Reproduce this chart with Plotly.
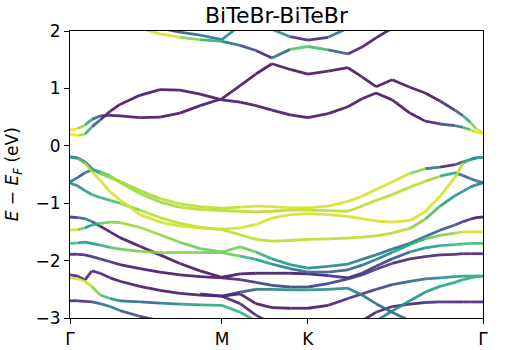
import plotly.graph_objects as go
from plotly.colors import sample_colorscale

N = None

# k-path positions (fraction of Γ-M-K-Γ path)
kpts = [0.0, 0.019, 0.036, 0.053, 0.073, 0.097, 0.121, 0.169, 0.218, 0.266,
        0.315, 0.368, 0.412, 0.450, 0.489, 0.533, 0.576, 0.625, 0.673, 0.707,
        0.741, 0.780, 0.823, 0.860, 0.896, 0.932, 0.952, 0.969, 0.983, 1.0]

tick_pos = [0.0, 0.368, 0.576, 1.0]
tick_labels = ['Γ', 'M', 'K', 'Γ']

# band energies (eV) and projected weight (0..1) per k point
cA = [0.20, 0.18, 0.20, 0.33, 0.45, 0.60, 0.72, 0.88, 0.98, 0.97, 0.90, 0.80, 0.76, 0.70, 0.62,
      0.54, 0.49, 0.56, 0.68, 0.82, 0.92, 0.80, 0.57, 0.43, 0.38, 0.35, 0.32, 0.28, 0.24, 0.21]
wA = [1.0, 0.95, 0.85, 0.45, 0.12, 0.06, 0.05, 0.05, 0.05, 0.05, 0.05, 0.05, 0.05, 0.05, 0.05,
      0.05, 0.05, 0.05, 0.05, 0.05, 0.05, 0.05, 0.05, 0.08, 0.12, 0.35, 0.55, 0.8, 0.95, 1.0]

cB = [0.27, 0.30, 0.36, 0.46, 0.52, 0.53, 0.52, 0.49, 0.50, 0.57, 0.70, 0.82, 1.05, 1.25, 1.43,
      1.33, 1.25, 1.30, 1.36, 1.20, 1.03, 1.15, 1.02, 0.92, 0.78, 0.62, 0.52, 0.41, 0.30, 0.22]
wB = [1.0, 0.95, 0.75, 0.45, 0.2, 0.1, 0.06, 0.05, 0.05, 0.05, 0.05, 0.05, 0.05, 0.05, 0.05,
      0.05, 0.05, 0.05, 0.05, 0.05, 0.05, 0.05, 0.05, 0.06, 0.1, 0.2, 0.45, 0.75, 0.9, 1.0]

cC = [N, N, N, N, N, N, N, 2.05, 1.95, 1.89, 1.85, 1.82, 1.75, 1.66, 1.53,
      1.68, 1.73, 1.67, 1.60, 1.72, 1.88, 2.05, N, N, N, N, N, N, N, N]
wC = [0, 0, 0, 0, 0, 0, 0, 0.95, 0.95, 0.9, 0.75, 0.5, 0.3, 0.12, 0.08,
      0.6, 0.85, 0.5, 0.15, 0.08, 0.06, 0.05, 0, 0, 0, 0, 0, 0, 0, 0]

cD = [N, N, N, N, N, N, N, N, 2.05, 1.98, 1.93, 1.85, 2.10, N, N,
      N, N, N, N, N, N, N, N, N, N, N, N, N, N, N]
wD = [0, 0, 0, 0, 0, 0, 0, 0, 0.2, 0.25, 0.35, 0.45, 0.5, 0, 0,
      0, 0, 0, 0, 0, 0, 0, 0, 0, 0, 0, 0, 0, 0, 0]

cE = [N, N, N, N, N, N, N, N, N, N, N, N, N, 2.20, 2.03,
      1.90, 1.84, 1.89, 2.05, 2.20, N, N, N, N, N, N, N, N, N, N]
wE = [0, 0, 0, 0, 0, 0, 0, 0, 0, 0, 0, 0, 0, 0.9, 0.85,
      0.2, 0.05, 0.15, 0.65, 0.8, 0, 0, 0, 0, 0, 0, 0, 0, 0, 0]

v1 = [-0.19, -0.21, -0.28, -0.40, -0.48, -0.55, -0.62, -0.78, -0.92, -1.01, -1.06, -1.09, -1.07, -1.05, -1.06,
      -1.08, -1.08, -1.05, -0.97, -0.88, -0.76, -0.63, -0.48, -0.40, -0.37, -0.33, -0.28, -0.24, -0.21, -0.20]
w1 = [0.5, 0.4, 0.15, 0.45, 0.7, 0.8, 0.85, 0.85, 0.85, 0.9, 0.9, 0.9, 0.92, 0.92, 0.92,
      0.92, 0.92, 0.92, 0.95, 0.95, 0.95, 0.95, 0.9, 0.7, 0.12, 0.12, 0.3, 0.45, 0.5, 0.5]

v2 = [-0.20, -0.22, -0.30, -0.45, -0.60, -0.80, -0.94, -1.20, -1.33, -1.40, -1.43, -1.45, -1.43, -1.37, -1.26,
      -1.20, -1.18, -1.20, -1.23, -1.27, -1.31, -1.33, -1.30, -1.15, -0.88, -0.55, -0.30, -0.24, -0.21, -0.20]
w2 = [0.5, 0.6, 0.85, 0.95, 0.95, 0.95, 0.95, 0.95, 0.95, 0.95, 0.95, 0.95, 0.95, 0.95, 0.95,
      0.95, 0.95, 0.95, 0.95, 0.95, 0.95, 0.95, 0.95, 0.95, 0.95, 0.95, 0.8, 0.55, 0.5, 0.5]

v3 = [-0.63, -0.55, -0.47, -0.42, -0.45, -0.52, -0.64, -0.83, -0.98, -1.07, -1.11, -1.13, -1.14, -1.15, -1.14,
      -1.12, -1.12, -1.13, -1.14, -1.05, -0.95, -0.85, -0.72, -0.62, -0.53, -0.47, -0.52, -0.57, -0.61, -0.64]
w3 = [0.45, 0.3, 0.25, 0.55, 0.75, 0.82, 0.85, 0.85, 0.85, 0.88, 0.88, 0.88, 0.88, 0.88, 0.88,
      0.88, 0.88, 0.88, 0.88, 0.88, 0.88, 0.88, 0.88, 0.88, 0.8, 0.4, 0.3, 0.3, 0.35, 0.45]

v4 = [-0.65, -0.70, -0.78, -0.85, -0.90, -0.95, -1.00, -1.12, -1.25, -1.35, -1.42, -1.46, -1.55, -1.63, -1.66,
      -1.65, -1.63, -1.62, -1.61, -1.59, -1.57, -1.52, -1.44, -1.28, -1.05, -0.87, -0.79, -0.72, -0.68, -0.65]
w4 = [0.45, 0.5, 0.55, 0.6, 0.65, 0.7, 0.75, 0.85, 0.9, 0.9, 0.9, 0.9, 0.9, 0.9, 0.9,
      0.9, 0.9, 0.9, 0.9, 0.9, 0.9, 0.9, 0.9, 0.75, 0.6, 0.5, 0.5, 0.5, 0.45, 0.45]

v5 = [-1.47, -1.46, -1.43, -1.38, -1.35, -1.33, -1.34, -1.42, -1.55, -1.68, -1.79, -1.85, -1.76, -1.85, -1.97,
      -2.07, -2.13, -2.10, -2.06, -1.98, -1.90, -1.80, -1.70, -1.58, -1.47, -1.38, -1.32, -1.28, -1.25, -1.24]
w5 = [0.95, 0.9, 0.6, 0.55, 0.7, 0.8, 0.85, 0.85, 0.85, 0.8, 0.78, 0.75, 0.8, 0.7, 0.6,
      0.55, 0.5, 0.48, 0.45, 0.42, 0.4, 0.38, 0.35, 0.32, 0.3, 0.25, 0.15, 0.1, 0.06, 0.05]

v6 = [-1.70, -1.69, -1.68, -1.70, -1.73, -1.77, -1.80, -1.84, -1.86, -1.86, -1.86, -1.86, -1.92, -1.98, -2.06,
      -2.14, -2.20, -2.20, -2.16, -2.08, -1.98, -1.86, -1.72, -1.62, -1.56, -1.52, -1.50, -1.50, -1.50, -1.50]
w6 = [0.8, 0.6, 0.5, 0.55, 0.6, 0.7, 0.75, 0.8, 0.8, 0.8, 0.8, 0.78, 0.72, 0.6, 0.5,
      0.4, 0.3, 0.3, 0.3, 0.35, 0.4, 0.5, 0.6, 0.7, 0.8, 0.85, 0.9, 0.95, 0.95, 0.95]

v7 = [-1.24, -1.25, -1.27, -1.32, -1.40, -1.50, -1.60, -1.75, -1.90, -2.05, -2.18, -2.29, -2.23, -2.22, -2.22,
      -2.22, -2.23, -2.26, -2.30, -2.22, -2.10, -1.97, -1.85, -1.78, -1.74, -1.72, -1.71, -1.70, -1.70, -1.70]
w7 = [0.1, 0.2, 0.45, 0.3, 0.1, 0.06, 0.05, 0.05, 0.05, 0.05, 0.05, 0.05, 0.05, 0.05, 0.05,
      0.05, 0.05, 0.08, 0.1, 0.12, 0.15, 0.2, 0.4, 0.55, 0.6, 0.65, 0.7, 0.7, 0.7, 0.7]

v8 = [-1.89, -1.89, -1.90, -1.93, -1.97, -2.02, -2.07, -2.14, -2.20, -2.25, -2.28, -2.30, -2.33, -2.38, -2.43,
      -2.46, -2.46, -2.40, -2.32, -2.25, -2.15, -2.05, -1.97, -1.93, -1.90, -1.89, -1.88, -1.88, -1.88, -1.88]
w8 = [0.1, 0.1, 0.1, 0.12, 0.15, 0.1, 0.08, 0.08, 0.08, 0.08, 0.08, 0.08, 0.1, 0.15, 0.2,
      0.2, 0.2, 0.2, 0.2, 0.2, 0.15, 0.12, 0.1, 0.1, 0.1, 0.1, 0.1, 0.1, 0.1, 0.1]

v9 = [-2.25, -2.27, -2.34, -2.18, -2.22, -2.30, -2.36, -2.45, -2.52, -2.57, -2.60, -2.62, -2.58, -2.75, -2.82,
      -2.83, -2.83, -2.78, -2.66, -2.58, -2.50, -2.42, -2.36, -2.32, -2.30, -2.28, -2.27, -2.27, -2.27, -2.27]
w9 = [0.1, 0.1, 0.1, 0.1, 0.1, 0.08, 0.08, 0.08, 0.08, 0.08, 0.08, 0.08, 0.08, 0.08, 0.08,
      0.08, 0.08, 0.08, 0.1, 0.15, 0.2, 0.25, 0.3, 0.4, 0.5, 0.55, 0.6, 0.6, 0.6, 0.6]

v10 = [-2.30, -2.32, -2.36, -2.45, -2.60, -2.66, -2.70, -2.72, -2.74, -2.76, -2.77, -2.78, -2.90, -3.05, N,
       N, N, N, N, N, N, N, N, N, N, N, N, N, N, N]
w10 = [0.95, 0.95, 0.9, 0.85, 0.8, 0.6, 0.4, 0.3, 0.35, 0.5, 0.6, 0.6, 0.65, 0.6, 0,
       0, 0, 0, 0, 0, 0, 0, 0, 0, 0, 0, 0, 0, 0, 0]

v11 = [-2.70, -2.70, -2.71, -2.72, -2.75, -2.80, -2.87, -2.97, -3.05, N, N, N, N, N, N,
       N, N, N, N, N, N, N, N, N, N, N, N, N, N, N]
w11 = [0.1, 0.1, 0.12, 0.2, 0.3, 0.45, 0.3, 0.2, 0.1, 0, 0, 0, 0, 0, 0,
       0, 0, 0, 0, 0, 0, 0, 0, 0, 0, 0, 0, 0, 0, 0]

v12 = [N, N, N, N, N, N, N, N, N, N, N, N, N, N, N,
       N, N, N, N, -3.05, -2.90, -2.80, -2.76, -2.73, -2.72, -2.72, -2.72, -2.72, -2.72, -2.72]
w12 = [0, 0, 0, 0, 0, 0, 0, 0, 0, 0, 0, 0, 0, 0, 0,
       0, 0, 0, 0, 0.1, 0.1, 0.1, 0.1, 0.1, 0.15, 0.1, 0.1, 0.1, 0.1, 0.1]

v13 = [N, N, N, N, N, N, N, N, N, N, N, -2.62, -2.55, -2.50, -2.50,
       -2.51, -2.51, -2.50, -2.48, -2.60, -2.75, -2.90, -3.05, N, N, N, N, N, N, N]
w13 = [0, 0, 0, 0, 0, 0, 0, 0, 0, 0, 0, 0.1, 0.2, 0.35, 0.45,
       0.5, 0.5, 0.5, 0.45, 0.4, 0.35, 0.3, 0.3, 0, 0, 0, 0, 0, 0, 0]

v14 = [N, N, N, N, N, N, N, N, N, N, -2.58, -2.62, -2.75, -2.95, -3.10,
       N, N, N, N, N, N, N, N, N, N, N, N, N, N, N]
w14 = [0, 0, 0, 0, 0, 0, 0, 0, 0, 0, 0.1, 0.1, 0.1, 0.1, 0.1,
       0, 0, 0, 0, 0, 0, 0, 0, 0, 0, 0, 0, 0, 0, 0]

v15 = [N, N, N, N, N, N, N, N, N, N, N, N, N, N, N,
       N, N, N, N, N, -3.05, -2.88, -2.70, -2.55, -2.45, -2.38, -2.33, -2.30, -2.28, -2.27]
w15 = [0, 0, 0, 0, 0, 0, 0, 0, 0, 0, 0, 0, 0, 0, 0,
       0, 0, 0, 0, 0, 0.45, 0.45, 0.5, 0.55, 0.6, 0.62, 0.62, 0.6, 0.6, 0.6]

bands = [(cA, wA), (cB, wB), (cC, wC), (cD, wD), (cE, wE),
         (v1, w1), (v2, w2), (v3, w3), (v4, w4), (v5, w5), (v6, w6), (v7, w7),
         (v8, w8), (v9, w9), (v10, w10), (v11, w11), (v12, w12), (v13, w13),
         (v14, w14), (v15, w15)]

# group line segments by colour bin so each bin is one trace
nbins = 24
segs = {i: ([], []) for i in range(nbins)}
for e, w in bands:
    for i in range(len(kpts) - 1):
        if e[i] is None or e[i + 1] is None:
            continue
        c = (w[i] + w[i + 1]) / 2
        b = min(nbins - 1, int(c * nbins))
        xs, ys = segs[b]
        xs += [kpts[i], kpts[i + 1], None]
        ys += [e[i], e[i + 1], None]

fig = go.Figure()
for b in range(nbins):
    xs, ys = segs[b]
    if not xs:
        continue
    col = sample_colorscale('Viridis', [(b + 0.5) / nbins])[0]
    fig.add_trace(go.Scatter(x=xs, y=ys, mode='lines',
                             line=dict(color=col, width=2.8),
                             opacity=0.9, hoverinfo='skip', showlegend=False))

fnt = dict(family='DejaVu Sans', size=17, color='black')

fig.update_layout(
    width=505, height=350,
    margin=dict(l=70, r=22, t=31, b=32),
    plot_bgcolor='white', paper_bgcolor='white',
    font=fnt,
    title=dict(text='BiTeBr-BiTeBr', x=0.5475, xanchor='center',
               y=0.957, yanchor='middle', font=dict(family='DejaVu Sans', size=22)),
    xaxis=dict(range=[0, 1], tickvals=tick_pos, ticktext=tick_labels,
               showgrid=False, zeroline=False, showline=True, linecolor='black',
               linewidth=1.2, mirror=True, ticks='outside', ticklen=5,
               tickcolor='black', tickfont=fnt, automargin=False),
    yaxis=dict(range=[-3, 2], tickvals=[-3, -2, -1, 0, 1, 2],
               ticktext=['−3', '−2', '−1', '0', '1', '2'],
               showgrid=False, zeroline=False, showline=True, linecolor='black',
               linewidth=1.2, mirror=True, ticks='outside', ticklen=5,
               tickcolor='black', tickfont=fnt, automargin=False),
    annotations=[dict(text='<i>E</i> − <i>E</i><sub><i>F</i></sub> (eV)',
                      xref='paper', yref='paper', x=-0.136, y=0.5,
                      xanchor='center', yanchor='middle', textangle=-90,
                      showarrow=False, font=fnt)],
)

fig.write_html("out.html", config={'displayModeBar': False},
               post_script="document.body.style.margin='0';")
